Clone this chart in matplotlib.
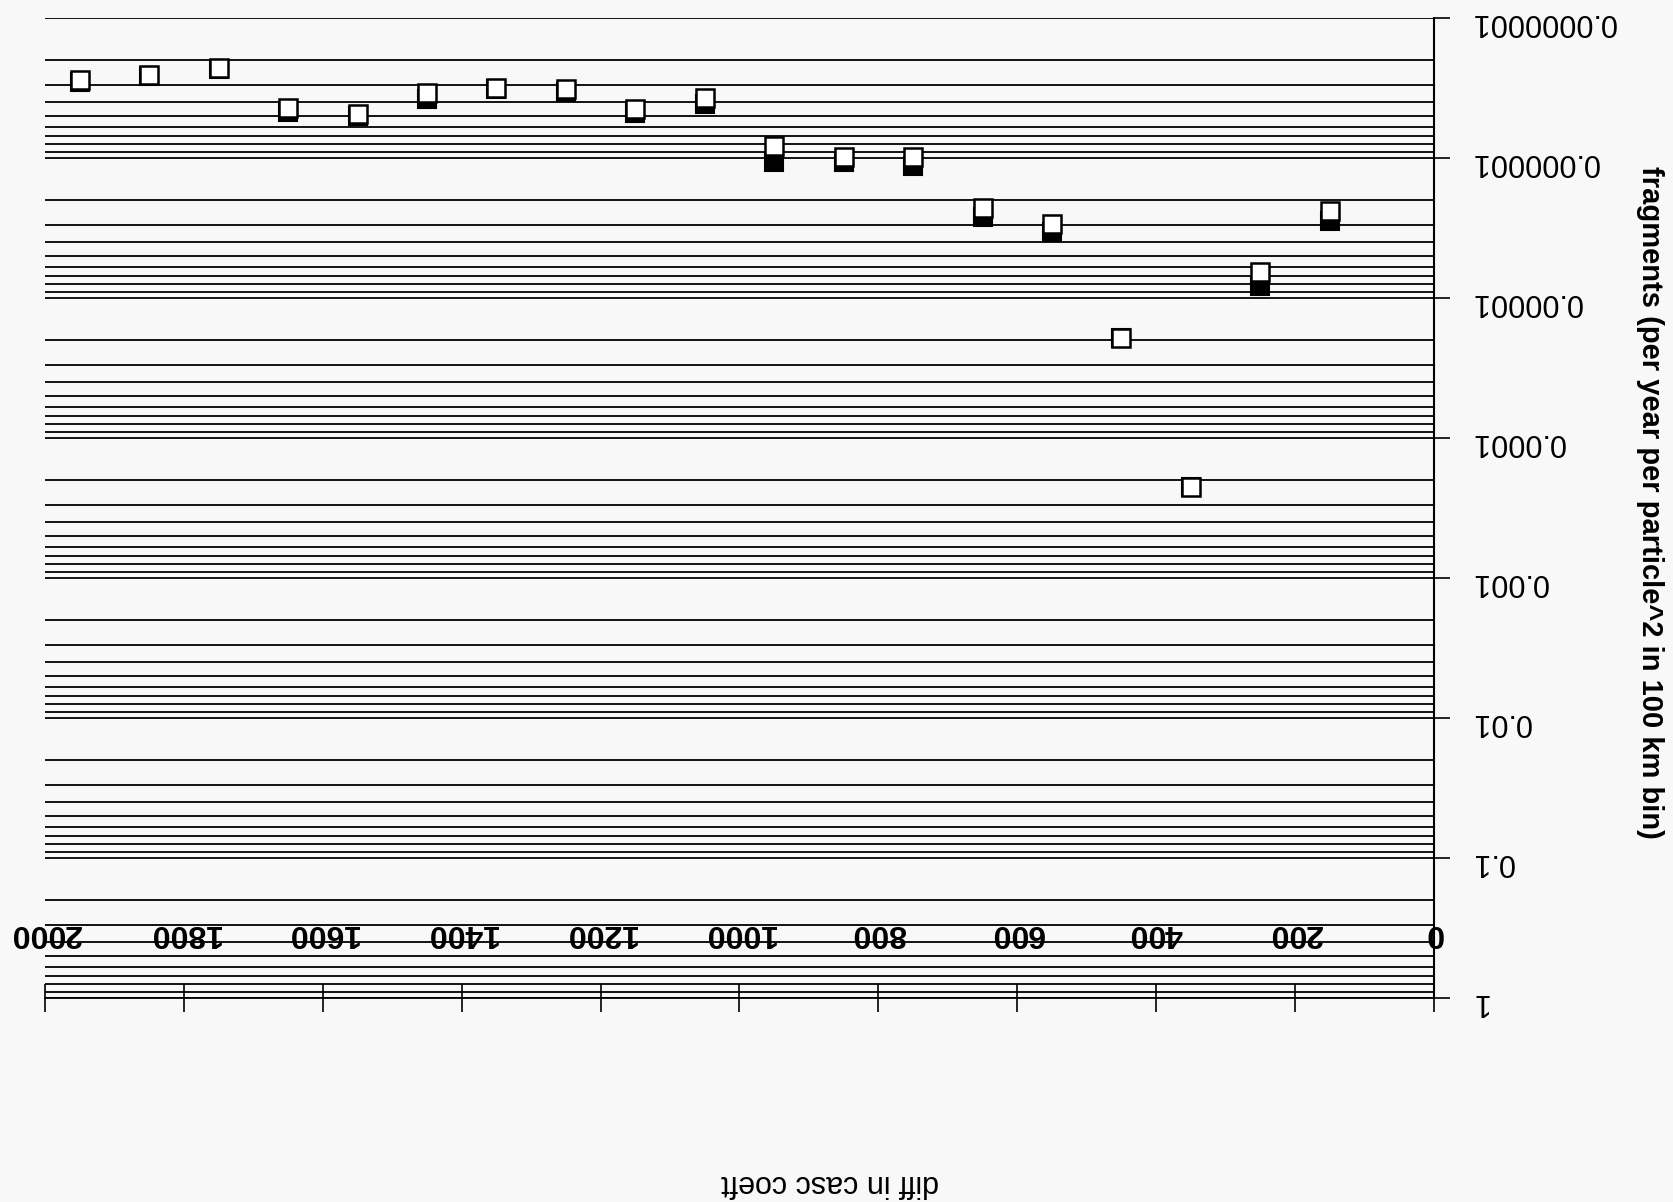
import matplotlib
matplotlib.use("Agg")
import matplotlib.pyplot as plt
from matplotlib.ticker import LogLocator, NullFormatter, FixedLocator
import matplotlib.transforms as mtransforms

plt.rcParams['font.family'] = ['Liberation Sans', 'DejaVu Sans']

# ---- data ----
x_vals = [150, 250, 350, 450, 550, 650, 750, 850, 950, 1050,
          1150, 1250, 1350, 1450, 1550, 1650, 1750, 1850, 1950]
open_series = [2.38e-6, 6.55e-6, 2.24e-4, 1.93e-5, 2.94e-6, 2.28e-6, 9.85e-7, 9.85e-7, 8.17e-7, 3.73e-7,
               4.47e-7, 3.23e-7, 3.14e-7, 3.41e-7, 4.88e-7, 4.40e-7, 2.26e-7, 2.55e-7, 2.79e-7]
filled_series = [2.81e-6, 8.24e-6, 2.24e-4, 1.93e-5, 3.39e-6, 2.62e-6, 1.14e-6, 1.07e-6, 1.06e-6, 4.09e-7,
                 4.77e-7, 3.35e-7, 3.20e-7, 3.81e-7, 5.00e-7, 4.67e-7, 2.30e-7, 2.60e-7, 2.85e-7]
x_ticks = [0, 200, 400, 600, 800, 1000, 1200, 1400, 1600, 1800, 2000]
x_tick_labels = ["0", "200", "400", "600", "800", "1000", "1200", "1400", "1600", "1800", "2000"]
y_ticks = [1e-7, 1e-6, 1e-5, 1e-4, 1e-3, 1e-2, 1e-1, 1]
y_tick_labels = ["0.0000001", "0.000001", "0.00001", "0.0001", "0.001", "0.01", "0.1", "1"]
x_label = "diff in casc coeft"
y_label = "fragments (per year per particle^2 in 100 km bin)"

W, H = 1674, 1202
bg = '#f8f8f8'
fig = plt.figure(figsize=(W / 100, H / 100), dpi=100, facecolor=bg)
left, right, top, bottom = 45, 1434, 18, 998
ax = fig.add_axes([left / W, 1 - bottom / H, (right - left) / W, (bottom - top) / H])
ax.set_facecolor(bg)

ax.set_yscale('log')
ax.set_xlim(2000, 0)
ax.set_ylim(1, 1e-7)

ax.plot(x_vals, filled_series, linestyle='none', marker='s', markersize=13.5,
        markerfacecolor='black', markeredgecolor='black', markeredgewidth=1.5, zorder=3)
ax.plot(x_vals, open_series, linestyle='none', marker='s', markersize=13.5,
        markerfacecolor='white', markeredgecolor='black', markeredgewidth=1.8, zorder=4)

# y axis on the right, upside-down labels
ax.yaxis.tick_right()
ax.yaxis.set_major_locator(FixedLocator(y_ticks))
ax.set_yticklabels(y_tick_labels)
ax.yaxis.set_minor_locator(LogLocator(base=10, subs=[2, 3, 4, 5, 6, 7, 8, 9], numticks=50))
ax.yaxis.set_minor_formatter(NullFormatter())
ax.tick_params(axis='y', which='major', direction='out', length=11.5, width=1.2,
               color='black', pad=15, labelsize=22, labelrotation=180)
ax.tick_params(axis='y', which='minor', length=0)
ax.grid(True, axis='y', which='both', color='black', linewidth=1.3)
ax.set_axisbelow(True)

# x axis ticks at bottom (crossing), labels drawn inside plot
ax.set_xticks(x_ticks)
ax.set_xticklabels([])
ax.tick_params(axis='x', which='major', direction='inout', length=20, width=1.2, color='black')
ax.tick_params(axis='x', which='minor', length=0)
trans = mtransforms.blended_transform_factory(ax.transData, ax.transAxes)
for xv, lab in zip(x_ticks, x_tick_labels):
    ax.text(xv, (bottom - 933) / (bottom - top), lab, transform=trans, rotation=180,
            ha='center', va='center', fontsize=23, fontweight='bold', color='black', zorder=5)

for s in ['top', 'left']:
    ax.spines[s].set_visible(False)
ax.spines['right'].set_linewidth(1.5)
ax.spines['bottom'].set_linewidth(1.3)

fig.text(1650 / W, 1 - 502 / H, y_label, rotation=-90, ha='center', va='center',
         fontsize=21, fontweight='bold')
fig.text(830 / W, 1 - 1183 / H, x_label, rotation=180, ha='center', va='center',
         fontsize=22)

fig.savefig('out.png', dpi=100, facecolor=bg)
